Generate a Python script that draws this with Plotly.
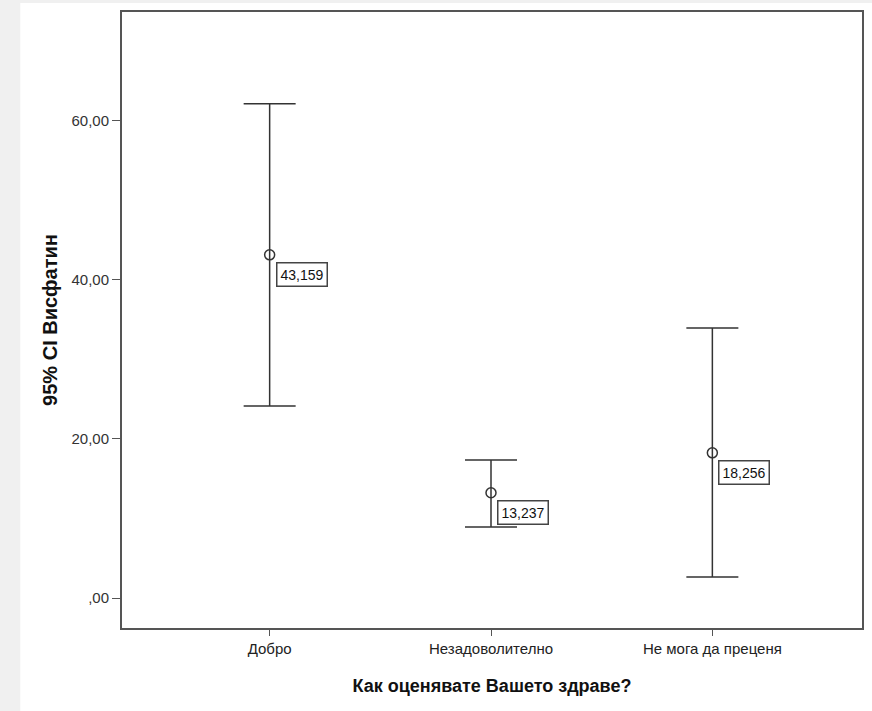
import plotly.graph_objects as go

categories = ["Добро", "Незадоволително", "Не мога да преценя"]
means = [43.159, 13.237, 18.256]
upper = [62.15, 17.36, 33.96]
lower = [24.15, 8.93, 2.64]
ytick_vals = [0, 20, 40, 60]
ytick_text = [",00", "20,00", "40,00", "60,00"]

xs = list(range(len(categories)))
fig = go.Figure()
fig.add_trace(go.Scatter(
    x=xs, y=means, mode="markers",
    marker=dict(symbol="circle-open", size=10, color="#333333", line=dict(width=1.5, color="#333333")),
    error_y=dict(type="data", symmetric=False,
                 array=[u - m for u, m in zip(upper, means)],
                 arrayminus=[m - l for m, l in zip(means, lower)],
                 color="#333333", thickness=1.5, width=26),
    showlegend=False, hoverinfo="skip",
))

for x, m in zip(xs, means):
    fig.add_annotation(x=x, y=m, text=f"{m:.3f}".replace(".", ","), showarrow=False,
                       xanchor="left", yanchor="top", xshift=6, yshift=-7,
                       font=dict(family="Liberation Sans, Arial", size=14, color="#111111"),
                       bordercolor="#444444", borderwidth=1.5, borderpad=3, bgcolor="white")

# white panel over light gray page
fig.add_shape(type="rect", xref="paper", yref="paper", x0=-0.1375, x1=1.02, y0=-0.14, y1=1.0146,
              fillcolor="white", line=dict(width=0), layer="below")

fig.update_layout(
    width=872, height=711,
    margin=dict(l=122, r=8, t=12, b=83),
    paper_bgcolor="#f0f0f0", plot_bgcolor="white",
    font=dict(family="Liberation Sans, Arial", size=14, color="#333333"),
    xaxis=dict(range=[-0.667, 2.676], tickvals=xs, ticktext=categories,
               showline=True, linecolor="#555555", linewidth=2, mirror=True,
               ticks="outside", ticklen=6, tickcolor="#555555", showgrid=False, zeroline=False,
               tickfont=dict(size=15, color="#222222"),
               title=dict(text="<b>Как оценявате Вашето здраве?</b>", font=dict(size=18, color="#111111"), standoff=23)),
    yaxis=dict(range=[-3.77, 73.7], tickvals=ytick_vals, ticktext=ytick_text,
               showline=True, linecolor="#555555", linewidth=2, mirror=True,
               ticks="outside", ticklen=8, tickcolor="#555555", showgrid=False, zeroline=False,
               tickfont=dict(size=15, color="#333333"),
               title=dict(text="<b>95% CI Висфатин</b>", font=dict(size=20, color="#111111"), standoff=8)),
)

fig.write_html("out.html")
